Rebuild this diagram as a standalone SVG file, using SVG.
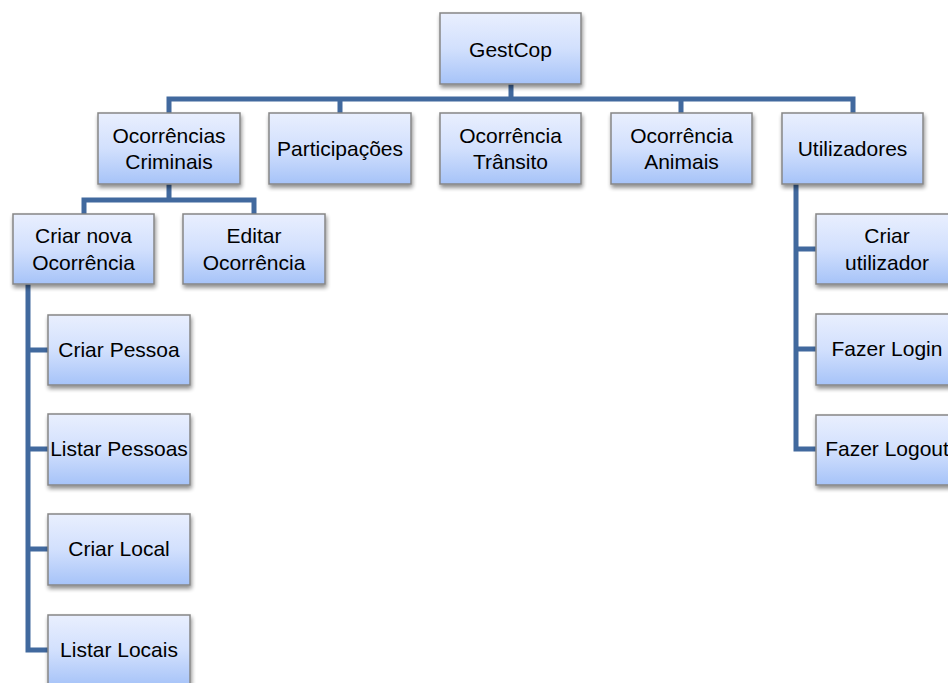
<svg xmlns="http://www.w3.org/2000/svg" width="948" height="683" viewBox="0 0 948 683">
  <defs>
    <linearGradient id="boxFill" x1="0" y1="0" x2="0" y2="1">
      <stop offset="0" stop-color="#e9effe"/>
      <stop offset="0.5" stop-color="#d2e0fd"/>
      <stop offset="1" stop-color="#a6c3f8"/>
    </linearGradient>
    <filter id="shadow" x="-10%" y="-10%" width="125%" height="135%">
      <feGaussianBlur in="SourceAlpha" stdDeviation="2.2"/>
      <feOffset dx="1" dy="3" result="b"/>
      <feComponentTransfer><feFuncA type="linear" slope="0.45"/></feComponentTransfer>
      <feMerge><feMergeNode/><feMergeNode in="SourceGraphic"/></feMerge>
    </filter>
  </defs>
  <style>
    .box { fill: url(#boxFill); stroke: #868686; stroke-width: 1.5; filter: url(#shadow); }
    .lbl { font-family: "Liberation Sans", Arial, sans-serif; font-size: 21px; fill: #000; text-anchor: middle; }
    .conn { fill: none; stroke: #41699e; stroke-width: 5; stroke-linejoin: miter; stroke-linecap: butt; }
  </style>
  <rect width="948" height="683" fill="#ffffff"/>

  <g id="connectors">
    <path class="conn" d="M511 84 V99 M169 113 V99 H853 V113 M340 99 V113 M681 99 V113"/>
    <path class="conn" d="M169 184 V200 M84 214 V200 H254 V214"/>
    <path class="conn" d="M28 284 V650 H48 M28 350 H48 M28 449 H48 M28 549 H48"/>
    <path class="conn" d="M796 184 V449 H816 M796 249 H816 M796 349 H816"/>
  </g>

  <g id="gestcop">
    <rect class="box" x="440" y="13" width="141" height="71"/>
    <text class="lbl" x="510.5" y="57">GestCop</text>
  </g>

  <g id="ocorrencias-criminais">
    <rect class="box" x="98" y="113" width="142" height="71"/>
    <text class="lbl" x="169" y="143">Ocorrências</text>
    <text class="lbl" x="169" y="169">Criminais</text>
  </g>
  <g id="participacoes">
    <rect class="box" x="269" y="113" width="142" height="71"/>
    <text class="lbl" x="340" y="156">Participações</text>
  </g>
  <g id="ocorrencia-transito">
    <rect class="box" x="440" y="113" width="141" height="71"/>
    <text class="lbl" x="510.5" y="143">Ocorrência</text>
    <text class="lbl" x="510.5" y="169">Trânsito</text>
  </g>
  <g id="ocorrencia-animais">
    <rect class="box" x="611" y="113" width="141" height="71"/>
    <text class="lbl" x="681.5" y="143">Ocorrência</text>
    <text class="lbl" x="681.5" y="169">Animais</text>
  </g>
  <g id="utilizadores">
    <rect class="box" x="782" y="113" width="141" height="71"/>
    <text class="lbl" x="852.5" y="156">Utilizadores</text>
  </g>

  <g id="criar-nova-ocorrencia">
    <rect class="box" x="13" y="214" width="141" height="70"/>
    <text class="lbl" x="83.5" y="243">Criar nova</text>
    <text class="lbl" x="83.5" y="270">Ocorrência</text>
  </g>
  <g id="editar-ocorrencia">
    <rect class="box" x="183" y="214" width="142" height="70"/>
    <text class="lbl" x="254" y="243">Editar</text>
    <text class="lbl" x="254" y="270">Ocorrência</text>
  </g>

  <g id="criar-pessoa">
    <rect class="box" x="48" y="315" width="142" height="70"/>
    <text class="lbl" x="119" y="357">Criar Pessoa</text>
  </g>
  <g id="listar-pessoas">
    <rect class="box" x="48" y="414" width="142" height="71"/>
    <text class="lbl" x="119" y="456">Listar Pessoas</text>
  </g>
  <g id="criar-local">
    <rect class="box" x="48" y="514" width="142" height="71"/>
    <text class="lbl" x="119" y="556">Criar Local</text>
  </g>
  <g id="listar-locais">
    <rect class="box" x="48" y="615" width="142" height="71"/>
    <text class="lbl" x="119" y="657">Listar Locais</text>
  </g>

  <g id="criar-utilizador">
    <rect class="box" x="816" y="214" width="142" height="70"/>
    <text class="lbl" x="887" y="243">Criar</text>
    <text class="lbl" x="887" y="270">utilizador</text>
  </g>
  <g id="fazer-login">
    <rect class="box" x="816" y="314" width="142" height="71"/>
    <text class="lbl" x="887" y="356">Fazer Login</text>
  </g>
  <g id="fazer-logout">
    <rect class="box" x="816" y="415" width="142" height="70"/>
    <text class="lbl" x="887" y="456">Fazer Logout</text>
  </g>
</svg>
